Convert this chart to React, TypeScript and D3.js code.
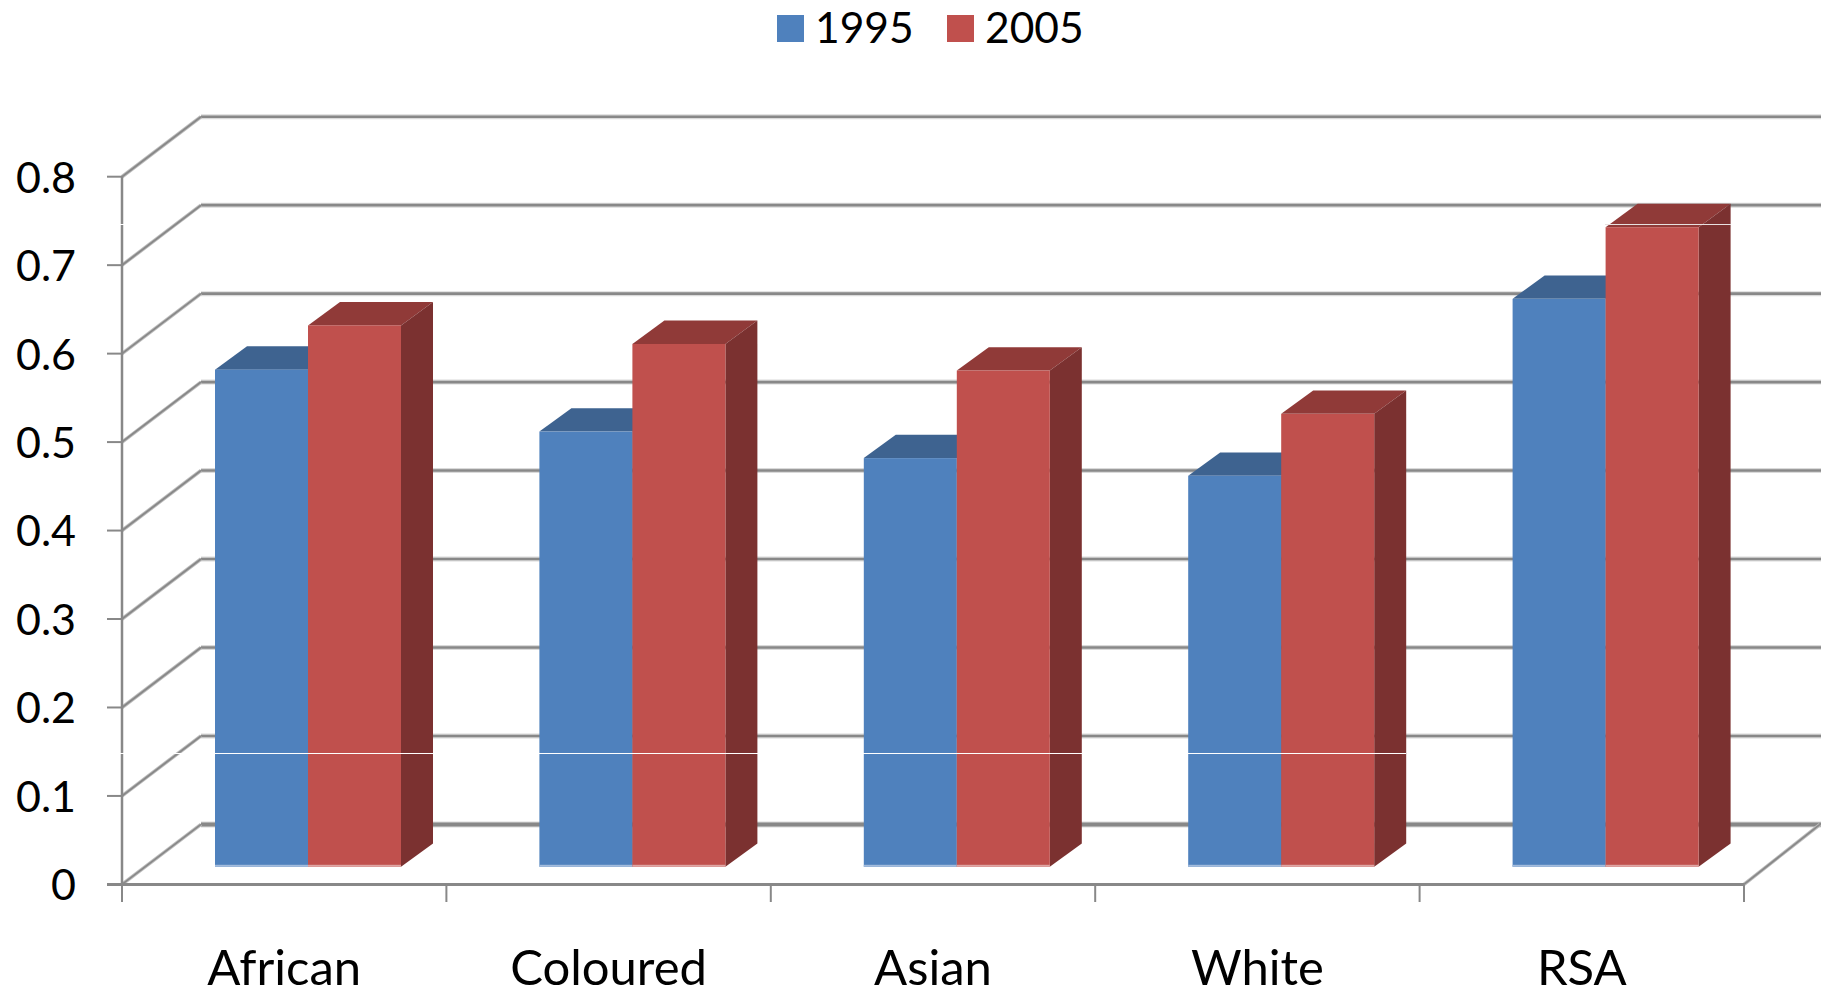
import React from "react";
import * as d3 from "d3";

const categories = ["African", "Coloured", "Asian", "White", "RSA"];
const values1995 = [0.562, 0.492, 0.462, 0.442, 0.642];
const values2005 = [0.612, 0.591, 0.561, 0.512, 0.723];
const yTicks = [0, 0.1, 0.2, 0.3, 0.4, 0.5, 0.6, 0.7, 0.8];
const seriesNames = ["1995", "2005"];
const seriesValues = [values1995, values2005];
const fronts = ["#4F81BD", "#C0504D"];
const tops = ["#3E6390", "#903A38"];
const sides = ["#34547A", "#7B3130"];
const baseEdges = ["#A3BCDD", "#DFA6A4"];

const W = 1821, H = 991;
const FONT = "Lato, 'Open Sans', sans-serif";
const GRID = "#888888";
const HALO = "#DADADA";
const wallDx = 79, wallDy = -60;
const barDx = 32, barDy = -23.4;
const barBaseShift = -17.6;

const x = d3.scaleBand<string>().domain(categories).range([122, 1744]);
const inner = d3.scaleBand<string>().domain(seriesNames).range([93, 279]);
const y = d3.scaleLinear().domain([0, 0.8]).range([884.4, 176.7]);
const pts = (p: number[][]) => p.map((q) => q.join(",")).join(" ");

export default function App() {
  const bw = inner.bandwidth();
  const base = y(0) + barBaseShift;
  const edges = [...categories.map((c) => x(c)!), 1744];
  return (
    <svg width={W} height={H} viewBox={`0 0 ${W} ${H}`}
      style={{ position: "absolute", left: 0, top: 0, background: "#fff" }} fontFamily={FONT}>
      {yTicks.map((t) => (
        <g key={t} fill="none">
          <line x1={122 + wallDx} x2={1821} y1={y(t) + wallDy} y2={y(t) + wallDy} stroke={HALO} strokeWidth={t === 0 ? 6 : 5} />
          <line x1={122 + wallDx} x2={1821} y1={y(t) + wallDy} y2={y(t) + wallDy} stroke={GRID} strokeWidth={t === 0 ? 4 : 2.6} />
          <line x1={122} y1={y(t)} x2={122 + wallDx} y2={y(t) + wallDy} stroke="#BDBDBD" strokeWidth={3.6} />
          <line x1={122} y1={y(t)} x2={122 + wallDx} y2={y(t) + wallDy} stroke={GRID} strokeWidth={1.8} />
        </g>
      ))}
      <line x1={1744} y1={y(0)} x2={1744 + wallDx - 3} y2={y(0) + wallDy} stroke="#BDBDBD" strokeWidth={3.6} />
      <line x1={1744} y1={y(0)} x2={1744 + wallDx - 3} y2={y(0) + wallDy} stroke={GRID} strokeWidth={1.8} />
      <line x1={122} y1={y(0.8)} x2={122} y2={y(0)} stroke={GRID} strokeWidth={2.5} />
      <line x1={107} y1={y(0)} x2={1744} y2={y(0)} stroke={GRID} strokeWidth={3} />
      {yTicks.map((t) => (
        <line key={t} x1={107} x2={122} y1={y(t)} y2={y(t)} stroke={GRID} strokeWidth={2} />
      ))}
      {edges.map((e, i) => (
        <line key={i} x1={e} x2={e} y1={y(0)} y2={902} stroke={GRID} strokeWidth={2} />
      ))}
      {categories.map((c, ci) =>
        seriesNames.map((s, si) => {
          const left = x(c)! + inner(s)!;
          const right = left + bw;
          const top = y(seriesValues[si][ci]) + barBaseShift;
          return (
            <g key={s}>
              <polygon fill={tops[si]} points={pts([[left, top], [left + barDx, top + barDy], [right + barDx, top + barDy], [right, top]])} />
              <polygon fill={sides[si]} points={pts([[right, top], [right + barDx, top + barDy], [right + barDx, base + barDy], [right, base]])} />
              <rect x={left} y={top} width={bw} height={base - top} fill={fronts[si]} />
              <rect x={left} y={base - 2} width={bw} height={2} fill={baseEdges[si]} />
            </g>
          );
        })
      )}
      <line x1={120} x2={1406} y1={753.5} y2={753.5} stroke="#fff" strokeWidth={1} />
      <line x1={120} x2={124} y1={224.5} y2={224.5} stroke="#fff" strokeWidth={1} />
      <line x1={1605} x2={1731} y1={224.5} y2={224.5} stroke="#E8E0E0" strokeWidth={1} />
      {yTicks.map((t) => (
        <text key={t} x={76} y={y(t)} dy="0.37em" textAnchor="end" fontSize={43} fill="#000">{t === 0 ? "0" : String(t)}</text>
      ))}
      {categories.map((c) => (
        <text key={c} x={x(c)! + x.bandwidth() / 2} y={985} textAnchor="middle" fontSize={49} fill="#000">{c}</text>
      ))}
      {seriesNames.map((s, i) => {
        const lx = d3.scaleOrdinal<string, number>().domain(seriesNames).range([777, 947])(s);
        return (
          <g key={s}>
            <rect x={lx} y={15} width={27} height={27} fill={fronts[i]} />
            <text x={lx + 38} y={43} fontSize={42.5} fill="#000">{s}</text>
          </g>
        );
      })}
    </svg>
  );
}
